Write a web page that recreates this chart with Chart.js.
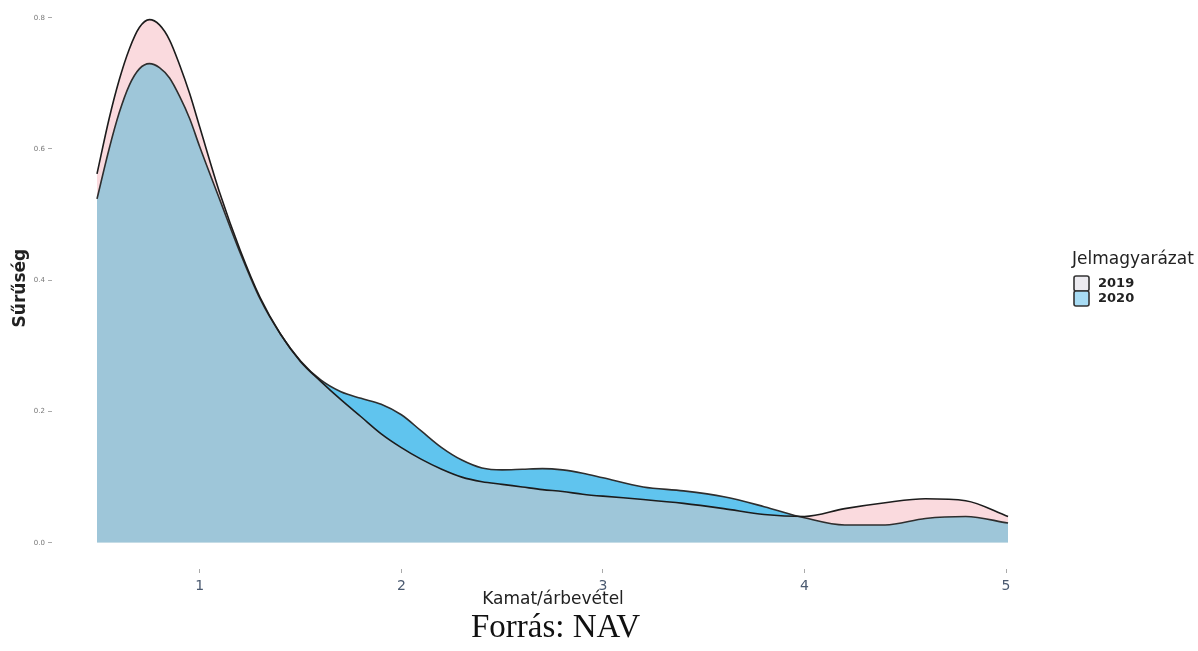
<!DOCTYPE html>
<html><head><meta charset="utf-8">
<script src="https://cdn.jsdelivr.net/npm/chart.js@4.4.1/dist/chart.umd.min.js"></script>
<style>
html,body{margin:0;padding:0;background:#fff;}
#wrap{position:relative;width:1198px;height:651px;overflow:hidden;}
#source{position:absolute;left:0;width:1111px;top:606px;line-height:40px;text-align:center;font-family:"Liberation Serif","DejaVu Serif",serif;font-size:33px;color:#111;}
</style></head><body>
<div id="wrap"><canvas id="c" width="1198" height="651"></canvas><div id="source">Forrás: NAV</div></div>
<script>
const xs = [0.49,0.55,0.6,0.65,0.7,0.75,0.8,0.85,0.9,0.95,1.0,1.1,1.2,1.3,1.4,1.5,1.6,1.7,1.8,1.9,2.0,2.1,2.2,2.3,2.4,2.5,2.6,2.7,2.8,2.9,3.0,3.2,3.4,3.6,3.8,4.0,4.2,4.4,4.6,4.8,5.01];
const d2019 = [0.562,0.646,0.705,0.752,0.785,0.797,0.789,0.766,0.728,0.684,0.633,0.532,0.446,0.373,0.318,0.276,0.246,0.218,0.192,0.166,0.145,0.127,0.112,0.100,0.093,0.089,0.085,0.081,0.078,0.074,0.071,0.066,0.060,0.052,0.043,0.040,0.052,0.061,0.067,0.064,0.040];
const d2020 = [0.524,0.600,0.655,0.697,0.722,0.730,0.724,0.708,0.680,0.646,0.603,0.522,0.442,0.371,0.318,0.277,0.248,0.230,0.220,0.211,0.195,0.170,0.145,0.126,0.114,0.111,0.112,0.113,0.111,0.106,0.099,0.085,0.079,0.070,0.055,0.038,0.027,0.027,0.037,0.040,0.030];
const seriesLabels = ['2019','2020'];
const xTicks = [1,2,3,4,5];
const yTicks = [0.0,0.2,0.4,0.6,0.8];
const legendTitle = 'Jelmagyarázat';
const xTitle = 'Kamat/árbevétel';
const yTitle = 'Sűrűség';

const PINK = 'rgb(250,218,222)';
const CYAN = 'rgb(96,196,238)';
const STEEL = 'rgb(158,198,217)';
const KEYS = ['rgb(236,235,240)','rgb(168,220,244)'];
const SANS = '"DejaVu Sans", "Liberation Sans", Arial, sans-serif';

const legendPlugin = {
  id: 'ggLegend',
  afterDraw(chart) {
    const ctx = chart.ctx;
    ctx.save();
    ctx.fillStyle = '#222';
    ctx.font = '17px ' + SANS;
    ctx.textBaseline = 'middle';
    ctx.textAlign = 'left';
    ctx.fillText(legendTitle, 1072, 260);
    chart.data.datasets.forEach((ds, i) => {
      const y = 276 + i * 15;
      ctx.fillStyle = KEYS[i];
      ctx.fillRect(1074, y, 15, 15);
      ctx.strokeStyle = '#333';
      ctx.lineWidth = 1.6;
      ctx.beginPath();
      ctx.roundRect(1074, y, 15, 15, 2);
      ctx.stroke();
      ctx.fillStyle = '#222';
      ctx.font = 'bold 13px ' + SANS;
      ctx.fillText(ds.label, 1098, y + 8);
    });
    ctx.restore();
  }
};

new Chart(document.getElementById('c'), {
  type: 'line',
  data: {
    datasets: [
      {
        label: seriesLabels[0],
        data: xs.map((x, i) => ({x: x, y: d2019[i]})),
        borderColor: '#1c1c1c',
        borderWidth: 1.6,
        pointRadius: 0,
        cubicInterpolationMode: 'monotone',
        fill: {target: 1, above: PINK, below: CYAN},
        order: 0
      },
      {
        label: seriesLabels[1],
        data: xs.map((x, i) => ({x: x, y: d2020[i]})),
        borderColor: '#2e2e2e',
        borderWidth: 1.6,
        pointRadius: 0,
        cubicInterpolationMode: 'monotone',
        fill: {target: 'origin', above: STEEL},
        order: 1
      }
    ]
  },
  options: {
    responsive: false,
    animation: false,
    layout: {padding: {left: 0, top: 0, right: 144, bottom: 0}},
    plugins: {
      legend: {display: false},
      tooltip: {enabled: false},
      filler: {drawTime: 'beforeDatasetsDraw'}
    },
    scales: {
      x: {
        type: 'linear',
        min: 0.2667,
        max: 5.238,
        afterBuildTicks: s => { s.ticks = xTicks.map(v => ({value: v})); },
        afterFit: s => { s.height = 82; },
        grid: {drawOnChartArea: false, drawTicks: true, tickLength: 4, color: '#aaa'},
        border: {display: false},
        ticks: {color: '#4b5a70', font: {size: 14, family: SANS}, padding: 5, maxRotation: 0, callback: v => String(v)},
        title: {display: true, text: xTitle, color: '#222', font: {size: 17, family: SANS}, padding: {top: 0, bottom: 41}}
      },
      y: {
        type: 'linear',
        min: -0.04,
        max: 0.816,
        afterBuildTicks: s => { s.ticks = yTicks.map(v => ({value: v})); },
        afterFit: s => { s.width = 52; },
        grid: {drawOnChartArea: false, drawTicks: true, tickLength: 4, color: '#aaa'},
        border: {display: false},
        ticks: {color: '#777', font: {size: 7, family: SANS}, padding: 3, callback: v => v.toFixed(1)},
        title: {display: true, text: yTitle, color: '#222', font: {size: 17, weight: 'bold', family: SANS}, padding: {top: 10, bottom: 0}}
      }
    }
  },
  plugins: [legendPlugin]
});
</script>
</body></html>
